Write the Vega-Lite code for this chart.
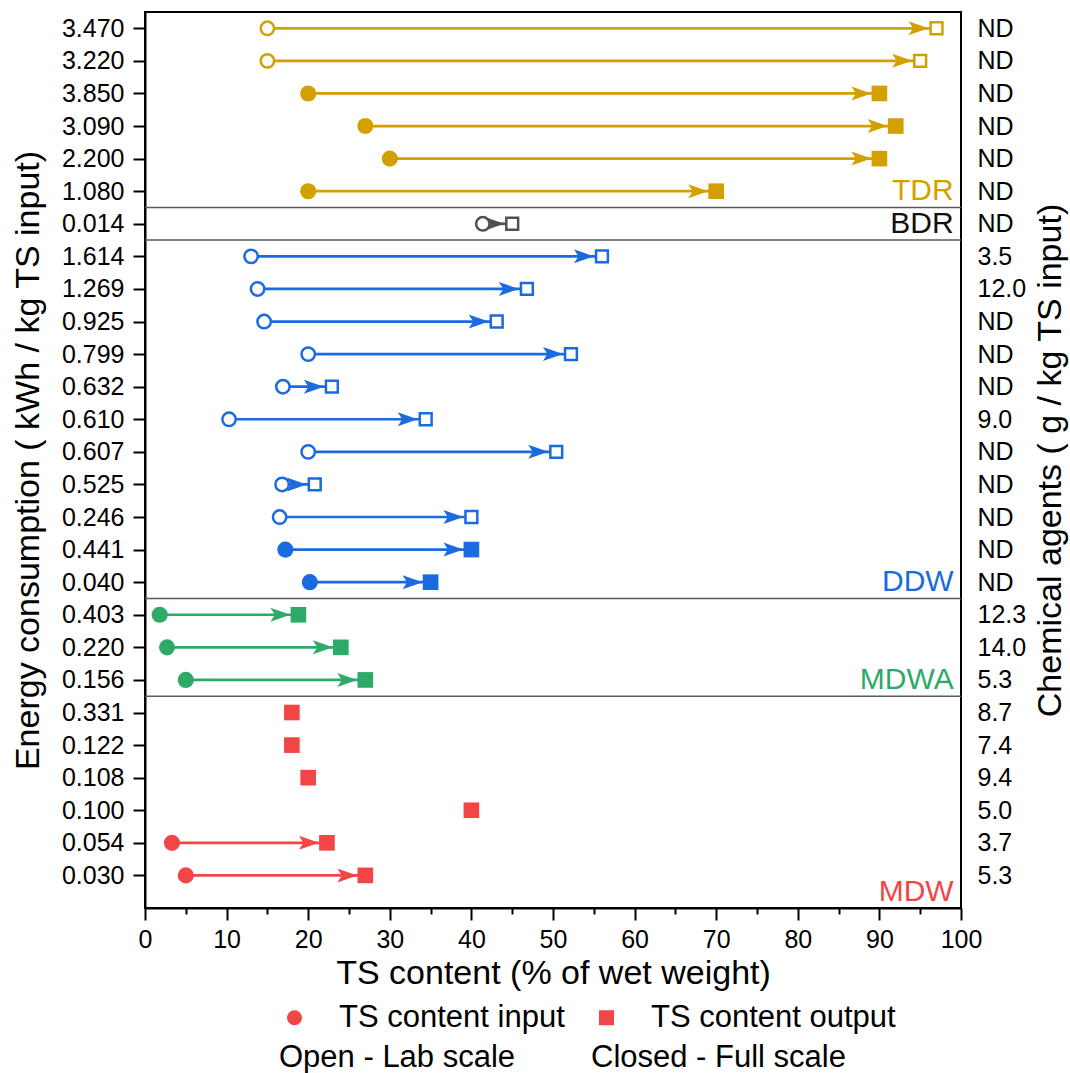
{
  "$schema": "https://vega.github.io/schema/vega-lite/v6.json",
  "width": 816,
  "height": 896,
  "autosize": "none",
  "padding": {"left": 145, "top": 12, "right": 109, "bottom": 165},
  "config": {
    "font": "Liberation Sans",
    "view": {"stroke": "black", "strokeWidth": 2},
    "axis": {"grid": false, "labelColor": "black", "titleColor": "black", "domainColor": "black", "tickColor": "black", "labelFont": "Liberation Sans", "titleFont": "Liberation Sans", "titleFontWeight": "normal"},
    "legend": {"labelFont": "Liberation Sans", "labelColor": "black", "labelLimit": 0}
  },
  "datasets": {
    "seps": [{"pos": 5.5}, {"pos": 6.5}, {"pos": 17.5}, {"pos": 20.5}],
    "groups": [
      {"group": "TDR", "bottom": 5.5},
      {"group": "BDR", "bottom": 6.5},
      {"group": "DDW", "bottom": 17.5},
      {"group": "MDWA", "bottom": 20.5},
      {"group": "MDW", "bottom": 27}
    ],
    "arrows": [
      {"row": 0, "start": 15, "end": 97, "group": "TDR"},
      {"row": 1, "start": 15, "end": 95, "group": "TDR"},
      {"row": 2, "start": 20, "end": 90, "group": "TDR"},
      {"row": 3, "start": 27, "end": 92, "group": "TDR"},
      {"row": 4, "start": 30, "end": 90, "group": "TDR"},
      {"row": 5, "start": 20, "end": 70, "group": "TDR"},
      {"row": 6, "start": 41.4, "end": 45, "group": "BDR"},
      {"row": 7, "start": 13, "end": 56, "group": "DDW"},
      {"row": 8, "start": 13.8, "end": 46.8, "group": "DDW"},
      {"row": 9, "start": 14.6, "end": 43.1, "group": "DDW"},
      {"row": 10, "start": 20, "end": 52.2, "group": "DDW"},
      {"row": 11, "start": 16.9, "end": 22.9, "group": "DDW"},
      {"row": 12, "start": 10.3, "end": 34.4, "group": "DDW"},
      {"row": 13, "start": 20, "end": 50.4, "group": "DDW"},
      {"row": 14, "start": 16.8, "end": 20.8, "group": "DDW"},
      {"row": 15, "start": 16.5, "end": 40, "group": "DDW"},
      {"row": 16, "start": 17.2, "end": 40, "group": "DDW"},
      {"row": 17, "start": 20.2, "end": 35, "group": "DDW"},
      {"row": 18, "start": 1.8, "end": 18.8, "group": "MDWA"},
      {"row": 19, "start": 2.7, "end": 24, "group": "MDWA"},
      {"row": 20, "start": 5, "end": 27, "group": "MDWA"},
      {"row": 25, "start": 3.3, "end": 22.3, "group": "MDW"},
      {"row": 26, "start": 5, "end": 27, "group": "MDW"}
    ],
    "markers": [
      {"row": 0, "x": 15, "kind": "TS content input", "scale": "Open - Lab scale", "group": "TDR"},
      {"row": 0, "x": 97, "kind": "TS content output", "scale": "Open - Lab scale", "group": "TDR"},
      {"row": 1, "x": 15, "kind": "TS content input", "scale": "Open - Lab scale", "group": "TDR"},
      {"row": 1, "x": 95, "kind": "TS content output", "scale": "Open - Lab scale", "group": "TDR"},
      {"row": 2, "x": 20, "kind": "TS content input", "scale": "Closed - Full scale", "group": "TDR"},
      {"row": 2, "x": 90, "kind": "TS content output", "scale": "Closed - Full scale", "group": "TDR"},
      {"row": 3, "x": 27, "kind": "TS content input", "scale": "Closed - Full scale", "group": "TDR"},
      {"row": 3, "x": 92, "kind": "TS content output", "scale": "Closed - Full scale", "group": "TDR"},
      {"row": 4, "x": 30, "kind": "TS content input", "scale": "Closed - Full scale", "group": "TDR"},
      {"row": 4, "x": 90, "kind": "TS content output", "scale": "Closed - Full scale", "group": "TDR"},
      {"row": 5, "x": 20, "kind": "TS content input", "scale": "Closed - Full scale", "group": "TDR"},
      {"row": 5, "x": 70, "kind": "TS content output", "scale": "Closed - Full scale", "group": "TDR"},
      {"row": 6, "x": 41.4, "kind": "TS content input", "scale": "Open - Lab scale", "group": "BDR"},
      {"row": 6, "x": 45, "kind": "TS content output", "scale": "Open - Lab scale", "group": "BDR"},
      {"row": 7, "x": 13, "kind": "TS content input", "scale": "Open - Lab scale", "group": "DDW"},
      {"row": 7, "x": 56, "kind": "TS content output", "scale": "Open - Lab scale", "group": "DDW"},
      {"row": 8, "x": 13.8, "kind": "TS content input", "scale": "Open - Lab scale", "group": "DDW"},
      {"row": 8, "x": 46.8, "kind": "TS content output", "scale": "Open - Lab scale", "group": "DDW"},
      {"row": 9, "x": 14.6, "kind": "TS content input", "scale": "Open - Lab scale", "group": "DDW"},
      {"row": 9, "x": 43.1, "kind": "TS content output", "scale": "Open - Lab scale", "group": "DDW"},
      {"row": 10, "x": 20, "kind": "TS content input", "scale": "Open - Lab scale", "group": "DDW"},
      {"row": 10, "x": 52.2, "kind": "TS content output", "scale": "Open - Lab scale", "group": "DDW"},
      {"row": 11, "x": 16.9, "kind": "TS content input", "scale": "Open - Lab scale", "group": "DDW"},
      {"row": 11, "x": 22.9, "kind": "TS content output", "scale": "Open - Lab scale", "group": "DDW"},
      {"row": 12, "x": 10.3, "kind": "TS content input", "scale": "Open - Lab scale", "group": "DDW"},
      {"row": 12, "x": 34.4, "kind": "TS content output", "scale": "Open - Lab scale", "group": "DDW"},
      {"row": 13, "x": 20, "kind": "TS content input", "scale": "Open - Lab scale", "group": "DDW"},
      {"row": 13, "x": 50.4, "kind": "TS content output", "scale": "Open - Lab scale", "group": "DDW"},
      {"row": 14, "x": 16.8, "kind": "TS content input", "scale": "Open - Lab scale", "group": "DDW"},
      {"row": 14, "x": 20.8, "kind": "TS content output", "scale": "Open - Lab scale", "group": "DDW"},
      {"row": 15, "x": 16.5, "kind": "TS content input", "scale": "Open - Lab scale", "group": "DDW"},
      {"row": 15, "x": 40, "kind": "TS content output", "scale": "Open - Lab scale", "group": "DDW"},
      {"row": 16, "x": 17.2, "kind": "TS content input", "scale": "Closed - Full scale", "group": "DDW"},
      {"row": 16, "x": 40, "kind": "TS content output", "scale": "Closed - Full scale", "group": "DDW"},
      {"row": 17, "x": 20.2, "kind": "TS content input", "scale": "Closed - Full scale", "group": "DDW"},
      {"row": 17, "x": 35, "kind": "TS content output", "scale": "Closed - Full scale", "group": "DDW"},
      {"row": 18, "x": 1.8, "kind": "TS content input", "scale": "Closed - Full scale", "group": "MDWA"},
      {"row": 18, "x": 18.8, "kind": "TS content output", "scale": "Closed - Full scale", "group": "MDWA"},
      {"row": 19, "x": 2.7, "kind": "TS content input", "scale": "Closed - Full scale", "group": "MDWA"},
      {"row": 19, "x": 24, "kind": "TS content output", "scale": "Closed - Full scale", "group": "MDWA"},
      {"row": 20, "x": 5, "kind": "TS content input", "scale": "Closed - Full scale", "group": "MDWA"},
      {"row": 20, "x": 27, "kind": "TS content output", "scale": "Closed - Full scale", "group": "MDWA"},
      {"row": 21, "x": 18, "kind": "TS content output", "scale": "Closed - Full scale", "group": "MDW"},
      {"row": 22, "x": 18, "kind": "TS content output", "scale": "Closed - Full scale", "group": "MDW"},
      {"row": 23, "x": 20, "kind": "TS content output", "scale": "Closed - Full scale", "group": "MDW"},
      {"row": 24, "x": 40, "kind": "TS content output", "scale": "Closed - Full scale", "group": "MDW"},
      {"row": 25, "x": 3.3, "kind": "TS content input", "scale": "Closed - Full scale", "group": "MDW"},
      {"row": 25, "x": 22.3, "kind": "TS content output", "scale": "Closed - Full scale", "group": "MDW"},
      {"row": 26, "x": 5, "kind": "TS content input", "scale": "Closed - Full scale", "group": "MDW"},
      {"row": 26, "x": 27, "kind": "TS content output", "scale": "Closed - Full scale", "group": "MDW"}
    ]
  },
  "layer": [
    {
      "data": {"name": "seps"},
      "mark": {"type": "rule", "color": "#5a5a5a", "strokeWidth": 1.5},
      "encoding": {
        "y": {
          "field": "pos", "type": "quantitative",
          "scale": {"domain": [-0.5, 27], "reverse": true, "nice": false, "zero": false},
          "axis": {
            "orient": "left",
            "title": "Energy consumption ( kWh / kg TS input)",
            "values": [0,1,2,3,4,5,6,7,8,9,10,11,12,13,14,15,16,17,18,19,20,21,22,23,24,25,26],
            "labelExpr": "['3.470','3.220','3.850','3.090','2.200','1.080','0.014','1.614','1.269','0.925','0.799','0.632','0.610','0.607','0.525','0.246','0.441','0.040','0.403','0.220','0.156','0.331','0.122','0.108','0.100','0.054','0.030'][datum.value]",
            "labelOverlap": false,
            "labelFlush": false,
            "labelBound": false,
            "tickSize": 12,
            "tickWidth": 2,
            "domainWidth": 2,
            "labelFontSize": 25,
            "labelPadding": 9,
            "titleFontSize": 34,
            "titlePadding": 16
          }
        }
      }
    },
    {
      "data": {"name": "arrows"},
      "mark": {"type": "rule", "strokeWidth": 2.7},
      "encoding": {
        "x": {
          "field": "start", "type": "quantitative",
          "scale": {"domain": [0, 100], "nice": false, "zero": false},
          "axis": {
            "title": "TS content (% of wet weight)",
            "values": [0,5,10,15,20,25,30,35,40,45,50,55,60,65,70,75,80,85,90,95,100],
            "labelExpr": "datum.value % 10 == 0 ? datum.label : ''",
            "tickSize": {"condition": {"test": "datum.value % 10 == 0", "value": 12}, "value": 6},
            "tickWidth": 2,
            "domainWidth": 2,
            "labelFlush": false,
            "labelOverlap": false,
            "labelFontSize": 25,
            "labelPadding": 7,
            "titleFontSize": 34,
            "titlePadding": 4
          }
        },
        "x2": {"field": "end"},
        "y": {"field": "row", "type": "quantitative", "axis": null},
        "color": {"field": "group", "type": "nominal", "scale": {"domain": ["TDR", "BDR", "DDW", "MDWA", "MDW"], "range": ["#D4A000", "#505050", "#1A6BE0", "#2EAA68", "#F24646"]}, "legend": null}
      }
    },
    {
      "data": {"name": "arrows"},
      "mark": {"type": "point", "filled": true, "opacity": 1, "size": 400, "xOffset": -18, "shape": "M1,0 L-1,-0.7 L-0.55,0 L-1,0.7 Z"},
      "encoding": {
        "x": {"field": "end", "type": "quantitative"},
        "y": {"field": "row", "type": "quantitative", "axis": null},
        "color": {"field": "group", "type": "nominal", "legend": null}
      }
    },
    {
      "data": {"name": "markers"},
      "transform": [{"filter": "datum.scale == 'Closed - Full scale' && datum.kind == 'TS content input'"}],
      "mark": {"type": "point", "filled": true, "size": 260, "opacity": 1},
      "encoding": {
        "x": {"field": "x", "type": "quantitative"},
        "y": {"field": "row", "type": "quantitative", "axis": null},
        "color": {"field": "group", "type": "nominal", "legend": null},
        "shape": {"field": "kind", "type": "nominal", "scale": {"domain": ["TS content input", "TS content output"], "range": ["circle", "square"]},
          "legend": {"orient": "none", "legendX": 134, "legendY": 990, "direction": "horizontal", "title": null, "labelFontSize": 31, "labelOffset": 29, "columnPadding": 26, "symbolSize": 225, "padding": 0,
            "symbolFillColor": "#F24646", "symbolStrokeColor": "#F24646", "symbolOpacity": 1, "symbolStrokeWidth": 0,
            "encode": {"symbols": {"update": {"fill": {"value": "#F24646"}, "stroke": {"value": "#F24646"}}}}}},
        "opacity": {"field": "scale", "type": "ordinal", "scale": {"domain": ["Open - Lab scale", "Closed - Full scale"], "range": [1, 1]},
          "legend": {"orient": "none", "legendX": 103, "legendY": 1030, "direction": "horizontal", "title": null, "labelFontSize": 31, "labelOffset": 0, "columnPadding": 44, "symbolSize": 0, "symbolOpacity": 0, "symbolStrokeWidth": 0, "padding": 0}}
      }
    },
    {
      "data": {"name": "markers"},
      "transform": [{"filter": "datum.scale == 'Closed - Full scale' && datum.kind == 'TS content output'"}],
      "mark": {"type": "point", "filled": true, "size": 245, "opacity": 1},
      "encoding": {
        "x": {"field": "x", "type": "quantitative"},
        "y": {"field": "row", "type": "quantitative", "axis": null},
        "color": {"field": "group", "type": "nominal", "legend": null},
        "shape": {"field": "kind", "type": "nominal"},
        "opacity": {"field": "scale", "type": "ordinal"}
      }
    },
    {
      "data": {"name": "markers"},
      "transform": [{"filter": "datum.scale == 'Open - Lab scale' && datum.kind == 'TS content input'"}],
      "mark": {"type": "point", "fill": "white", "strokeWidth": 2.5, "size": 180, "opacity": 1},
      "encoding": {
        "x": {"field": "x", "type": "quantitative"},
        "y": {"field": "row", "type": "quantitative", "axis": null},
        "stroke": {"field": "group", "type": "nominal", "scale": {"domain": ["TDR", "BDR", "DDW", "MDWA", "MDW"], "range": ["#D4A000", "#505050", "#1A6BE0", "#2EAA68", "#F24646"]}, "legend": null},
        "shape": {"field": "kind", "type": "nominal"},
        "opacity": {"field": "scale", "type": "ordinal"}
      }
    },
    {
      "data": {"name": "markers"},
      "transform": [{"filter": "datum.scale == 'Open - Lab scale' && datum.kind == 'TS content output'"}],
      "mark": {"type": "point", "fill": "white", "strokeWidth": 2.5, "size": 140, "opacity": 1},
      "encoding": {
        "x": {"field": "x", "type": "quantitative"},
        "y": {"field": "row", "type": "quantitative", "axis": null},
        "stroke": {"field": "group", "type": "nominal", "legend": null},
        "shape": {"field": "kind", "type": "nominal"},
        "opacity": {"field": "scale", "type": "ordinal"}
      }
    },
    {
      "data": {"name": "groups"},
      "mark": {"type": "text", "align": "right", "baseline": "alphabetic", "dy": -7, "fontSize": 30},
      "encoding": {
        "x": {"datum": 99.1, "type": "quantitative"},
        "y": {
          "field": "bottom", "type": "quantitative",
          "axis": {
            "orient": "right",
            "title": "Chemical agents ( g / kg TS input)",
            "values": [0,1,2,3,4,5,6,7,8,9,10,11,12,13,14,15,16,17,18,19,20,21,22,23,24,25,26],
            "labelExpr": "['ND','ND','ND','ND','ND','ND','ND','3.5','12.0','ND','ND','ND','9.0','ND','ND','ND','ND','ND','12.3','14.0','5.3','8.7','7.4','9.4','5.0','3.7','5.3'][datum.value]",
            "labelOverlap": false,
            "labelFlush": false,
            "labelBound": false,
            "ticks": false,
            "tickSize": 0,
            "domain": false,
            "labelAlign": "left",
            "labelFontSize": 25,
            "labelPadding": 16,
            "titleFontSize": 34,
            "titleAngle": 270,
            "titleBaseline": "top",
            "titlePadding": 8
          }
        },
        "text": {"field": "group"},
        "fill": {"field": "group", "type": "nominal", "scale": {"domain": ["TDR", "BDR", "DDW", "MDWA", "MDW"], "range": ["#D4A000", "#111111", "#1A6BE0", "#2EAA68", "#F24646"]}, "legend": null}
      }
    }
  ],
  "resolve": {"scale": {"y": "shared"}, "axis": {"y": "independent"}}
}
